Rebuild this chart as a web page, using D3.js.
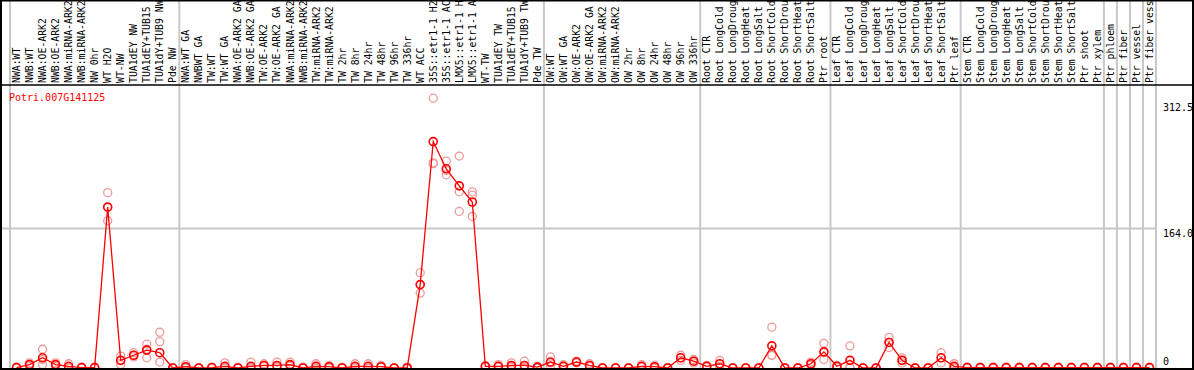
<!DOCTYPE html>
<html>
<head>
<meta charset="utf-8">
<script src="https://cdn.jsdelivr.net/npm/d3@7"></script>
<style>
  html, body { margin: 0; padding: 0; background: #fff; }
  svg { display: block; }
  text { font-family: "DejaVu Sans Mono", monospace; }
</style>
</head>
<body>
<script>
const geneName = "Potri.007G141125";

const categories = [
  "NWA:WT","NWB:WT","NWA:OE-ARK2","NWB:OE-ARK2","NWA:miRNA-ARK2","NWB:miRNA-ARK2","NW 0hr","WT H2O","WT-NW",
  "TUA1dEY NW","TUA1dEY+TUB15 NW","TUA1dY+TUB9 NW","Pde NW",
  "NWA:WT GA","NWBWT GA","TW:WT","TW:WT GA","NWA:OE-ARK2 GA","NWB:OE-ARK2 GA","TW:OE-ARK2","TW:OE-ARK2 GA",
  "NWA:miRNA-ARK2","NWB:miRNA-ARK2","TW:miRNA-ARK2","TW:miRNA-ARK2","TW 2hr","TW 8hr","TW 24hr","TW 48hr","TW 96hr","TW 336hr",
  "WT ACC","35S::etr1-1 H2O","35S::etr1-1 ACC","LMX5::etr1-1 H2O","LMX5::etr1-1 ACC","WT-TW",
  "TUA1dEY TW","TUA1dEY+TUB15 TW","TUA1dY+TUB9 TW","Pde TW",
  "OW:WT","OW:WT GA","OW:OE-ARK2","OW:OE-ARK2 GA","OW:miRNA-ARK2","OW:miRNA-ARK2","OW 2hr","OW 8hr","OW 24hr","OW 48hr","OW 96hr","OW 336hr",
  "Root CTR","Root LongCold","Root LongDrought","Root LongHeat","Root LongSalt","Root ShortCold","Root ShortDrought","Root ShortHeat","Root ShortSalt","Ptr root",
  "Leaf CTR","Leaf LongCold","Leaf LongDrought","Leaf LongHeat","Leaf LongSalt","Leaf ShortCold","Leaf ShortDrought","Leaf ShortHeat","Leaf ShortSalt","Ptr leaf",
  "Stem CTR","Stem LongCold","Stem LongDrought","Stem LongHeat","Stem LongSalt","Stem ShortCold","Stem ShortDrought","Stem ShortHeat","Stem ShortSalt","Ptr shoot","Ptr xylem",
  "Ptr phloem","Ptr fiber","Ptr vessel","Ptr fiber vessel"
];

// group boundaries (category index where a new group starts)
const groupBreaks = [0, 13, 41, 53, 63, 73, 84, 85, 86, 87, 88];

const means = [
  0.5, 4, 12, 4, 2, 0.5, 0.5, 189, 9, 15, 21, 18, 0,
  1.5, 0, 0.5, 2, 0, 2, 3, 3, 4, 0, 2, 1.5, 0, 2, 2, 1.5, 0, 0,
  98, 266, 234, 214, 195, 2, 2, 3, 3, 1,
  7, 2, 7, 3, 0, 0, 0, 2, 1.5, 0, 12, 8,
  2, 5, 0, 0, 0, 26, 0, 0, 5, 19,
  2, 9, 0, 0, 30, 9, 0, 0, 12, 2,
  0.5, 0.5, 0.5, 0.5, 0.5, 0.5, 0.5, 0.5, 0.5, 0.5, 0.5,
  0.5, 0.5, 0.5, 0.5
];

const rep1 = [
  1, 6, 22, 6, 5, 0, 0, 206, 14, 18, 28, 42, 0,
  4, 0, 1, 6, 0, 7, 5, 7, 7, 0, 5, 3, 0, 5, 5, 3, 0, 0,
  112, 317, 243, 249, 207, 3, 4, 6, 8, 2,
  13, 4, 8, 5, 0, 0, 0, 4, 3, 0, 15, 10,
  3, 9, 0, 0, 0, 48, 0, 0, 7, 29,
  3, 26, 0, 0, 36, 12, 0, 0, 18, 5,
  1, 1, 1, 1, 1, 1, 1, 1, 1, 1, 1,
  1, 1, 1, 1
];
const rep2 = [
  0, 2, 4, 4, 1, 0, 1, 189, 9, 13, 12, 31, 0,
  0, 0, 0, 1, 0, 1, 2, 2, 3, 0, 1, 1, 0, 1, 1, 1, 0, 0,
  98, 241, 232, 207, 203, 2, 1, 2, 1, 1,
  6, 1, 7, 2, 0, 0, 0, 1, 1, 0, 12, 8,
  2, 4, 0, 0, 0, 15, 0, 0, 5, 18,
  2, 1, 0, 0, 30, 9, 0, 0, 12, 1,
  0, 0, 0, 0, 0, 0, 0, 0, 0, 0, 0,
  0, 0, 0, 0
];
const rep3 = [
  0.5, 4, 10, 2, 0, 1, 0, 173, 4, 15, 22, 7, 0,
  1, 0, 0, 0, 1, 0, 2, 1, 2, 1, 0, 0, 1, 0, 0, 1, 0, 1,
  88, 240, 227, 184, 178, 1, 1, 1, 0, 0,
  2, 1, 6, 2, 0, 0, 0, 1, 0, 0, 9, 6,
  1, 2, 0, 0, 0, 15, 0, 0, 3, 10,
  1, 0, 0, 0, 24, 6, 0, 0, 6, 0,
  0, 0, 0, 0, 0, 0, 0, 0, 0, 0, 0,
  0, 0, 0, 0
];

const tickValues = [312.5, 164.0, 0];
const tickLabels = ["312.5", "164.0", "0"];

// ---------- drawing ----------
const W = 1194, H = 370;
const svg = d3.select("body").append("svg").attr("width", W).attr("height", H);

const x = d3.scaleBand().domain(d3.range(categories.length)).range([10, 1156]).padding(0);
const y = d3.scaleLinear().domain([0, 312.5]).range([368, 102]);
const bw = x.bandwidth();
const bx = i => (i >= categories.length ? x.range()[1] : x(i));

// vertical group gridlines
svg.append("g").selectAll("line").data(groupBreaks).join("line")
  .attr("x1", d => bx(d)).attr("x2", d => bx(d))
  .attr("y1", 0).attr("y2", H)
  .attr("stroke", "#c8c8c8").attr("stroke-width", 2);

// horizontal gridline at middle tick
svg.append("line")
  .attr("x1", 0).attr("x2", x.range()[1])
  .attr("y1", y(164)).attr("y2", y(164))
  .attr("stroke", "#c8c8c8").attr("stroke-width", 2);

// header separator
svg.append("line").attr("x1", 0).attr("x2", W).attr("y1", 85).attr("y2", 85)
  .attr("stroke", "#000").attr("stroke-width", 1.5);

// category labels
svg.append("g").selectAll("text").data(categories).join("text")
  .attr("transform", (d, i) => `translate(${x(i) + bw / 2},83) rotate(-90)`)
  .attr("dy", "0.36em")
  .attr("font-size", "9.8px")
  .attr("fill", "#000")
  .text(d => d);

// title
svg.append("text").attr("x", 9).attr("y", 101)
  .attr("font-size", "10px").attr("fill", "#ff0000").text(geneName);

// y tick labels
svg.append("g").selectAll("text").data(tickValues).join("text")
  .attr("x", 1163)
  .attr("y", d => Math.min(y(d) + 9, 365))
  .attr("font-size", "10px").attr("fill", "#000")
  .text((d, i) => tickLabels[i]);

// replicate circles
const reps = [rep1, rep2, rep3];
reps.forEach(arr => {
  svg.append("g").selectAll("circle").data(arr).join("circle")
    .attr("cx", (d, i) => x(i) + bw / 2)
    .attr("cy", d => y(d))
    .attr("r", 4)
    .attr("fill", "none")
    .attr("stroke", "#ef9a9a")
    .attr("stroke-width", 1.3);
});

// mean line
const line = d3.line().x((d, i) => x(i) + bw / 2).y(d => y(d));
svg.append("path").datum(means)
  .attr("d", line).attr("fill", "none")
  .attr("stroke", "#ff0000").attr("stroke-width", 1.3);

// mean circles
svg.append("g").selectAll("circle").data(means).join("circle")
  .attr("cx", (d, i) => x(i) + bw / 2)
  .attr("cy", d => y(d))
  .attr("r", 4)
  .attr("fill", "none")
  .attr("stroke", "#ff0000")
  .attr("stroke-width", 1.6);

// outer border
svg.append("rect").attr("x", 1).attr("y", 0.5).attr("width", 1192).attr("height", 368.5)
  .attr("fill", "none").attr("stroke", "#000").attr("stroke-width", 2);
</script>
</body>
</html>
